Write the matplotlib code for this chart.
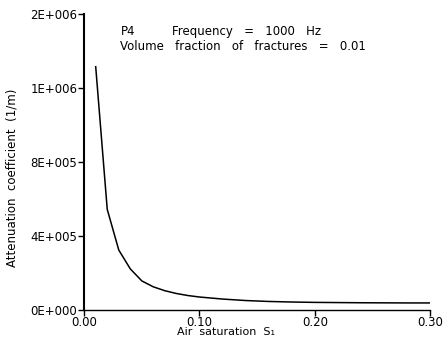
import matplotlib
matplotlib.use("Agg")
from matplotlib import pyplot as plt

# air saturation vs attenuation coefficient
sat = [0.01, 0.02, 0.03, 0.04, 0.05, 0.06, 0.07, 0.08, 0.09, 0.10,
       0.12, 0.14, 0.16, 0.18, 0.20, 0.22, 0.24, 0.26, 0.28, 0.30]
atten = [1.315e6, 5.44e5, 3.24e5, 2.22e5, 1.57e5, 1.25e5, 1.04e5, 8.9e4, 7.8e4, 7.0e4,
         5.9e4, 5.1e4, 4.6e4, 4.3e4, 4.1e4, 4.0e4, 3.9e4, 3.85e4, 3.8e4, 3.8e4]

yticks = [0, 4e5, 8e5, 1.2e6, 1.6e6]
ylabels = ["0E+000", "4E+005", "8E+005", "1E+006", "2E+006"]
xticks = [0.0, 0.1, 0.2, 0.3]
xlabels = ["0.00", "0.10", "0.20", "0.30"]

plt.rcParams["font.family"] = "DejaVu Sans"

fig = plt.figure(figsize=(4.43, 3.41), dpi=100)
ax = fig.add_axes([0.19, 0.091, 0.781, 0.868])

ax.plot(sat, atten, color="black", lw=1.1)

ax.set_xlim(0, 0.3)
ax.set_ylim(0, 1.6e6)
ax.set_xticks(xticks)
ax.set_xticklabels(xlabels, fontsize=8.5)
ax.set_yticks(yticks)
ax.set_yticklabels(ylabels, fontsize=8.5)
ax.tick_params(direction="out", length=4, width=1, pad=1)
ax.tick_params(axis="x", pad=0)

ax.spines["top"].set_visible(False)
ax.spines["right"].set_visible(False)
ax.spines["left"].set_linewidth(1.5)
ax.spines["bottom"].set_linewidth(1.0)

ax.text(0.105, 0.94, "P4", transform=ax.transAxes, fontsize=8.5, va="center")
ax.text(0.255, 0.94, "Frequency   =   1000   Hz", transform=ax.transAxes, fontsize=8.5,
        va="center")
ax.text(0.105, 0.89, "Volume   fraction   of   fractures   =   0.01", transform=ax.transAxes,
        fontsize=8.5, va="center")

fig.text(0.51, 0.026, "Air  saturation  S\u2081", fontsize=8, ha="center", va="center")
fig.text(0.028, 0.478, "Attenuation  coefficient  (1/m)", fontsize=8.5, rotation=90,
         ha="center", va="center")

fig.savefig("out.png", dpi=100)
